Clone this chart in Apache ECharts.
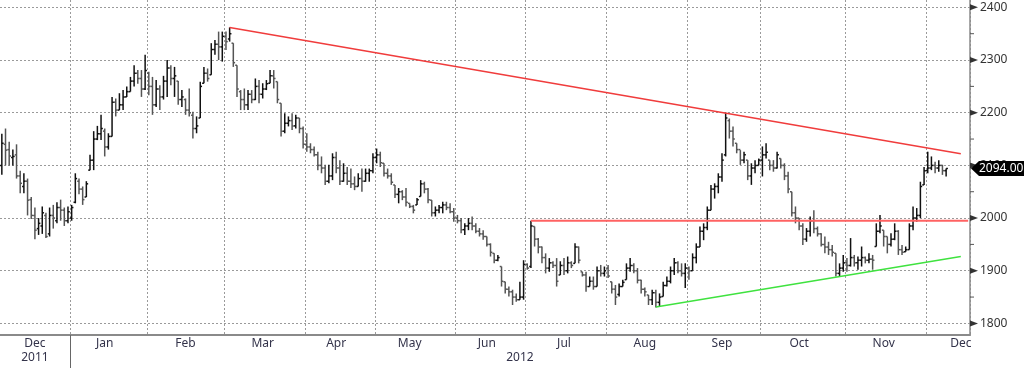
<!DOCTYPE html>
<html><head><meta charset="utf-8">
<script src="https://cdn.jsdelivr.net/npm/echarts@6/dist/echarts.min.js"></script>
<style>html,body{margin:0;padding:0;background:#fff}#c{width:1024px;height:368px}</style>
</head><body><div id="c"></div>
<script>
// ---- calendar (trading days) ----
const startDate = '2011-12-02';
const endDate = '2012-12-18';
const holidays = ['2011-12-26','2011-12-27','2012-01-02','2012-04-06','2012-04-09','2012-05-07','2012-06-04','2012-06-05','2012-08-27'];
const monthNames = ['Jan','Feb','Mar','Apr','May','Jun','Jul','Aug','Sep','Oct','Nov','Dec'];

// ---- OHLC values (Dec 2011 .. Dec 2012) ----
const highs = [
2160,2170,2145,2130,2140,2090,2085,2075,2040,2020,2000,2022,2010,2020,2025,2030,2035,2020,2022,
2025,2085,2075,2060,2070,2120,2165,2175,2196,2170,2161,2230,2227,2237,2243,2250,2268,2290,2281,2281,2310,
2278,2268,2262,2252,2270,2300,2290,2287,2260,2243,2227,2246,2202,2193,2259,2287,2284,2332,2338,2354,2354,
2354,2362,2332,2290,2243,2246,2243,2243,2265,2262,2256,2262,2281,2281,2259,2218,2199,2193,2199,2196,2190,2174,
2161,2142,2136,2126,2117,2101,2101,2123,2126,2110,2104,2097,2094,2079,2085,2094,2094,2094,2123,
2132,2126,2104,2094,2085,2063,2057,2053,2057,2028,2025,2038,2072,2069,2057,2034,2022,2025,2031,2031,2028,2019,
2006,2000,1990,2000,2003,1990,1981,1977,1965,1952,1933,1930,1908,1879,1870,1864,1857,1879,1920,
1914,1995,1984,1962,1946,1933,1924,1918,1924,1918,1924,1927,1918,1952,1946,1898,1898,1889,1889,1908,1911,1908,
1911,1879,1873,1876,1883,1914,1924,1914,1905,1883,1868,1854,1864,1864,1857,1879,1889,1908,1924,1918,1914,1914,
1908,1933,1952,1984,1990,2022,2063,2066,2085,2123,2200,2189,2174,2142,2129,2126,2110,2104,2110,2113,
2136,2142,2110,2110,2126,2113,2104,2088,2050,2022,2000,1990,1981,2003,2015,1984,1971,1965,1955,1949,1933,1914,1930,
1924,1962,1930,1927,1946,1927,1933,1930,1990,2006,1977,1965,1971,1990,1977,1949,1946,1990,2022,2019,2069,2097,
2126,2117,2107,2110,2101,2094];
const lows = [
2082,2100,2100,2100,2075,2047,2047,2005,1998,1960,1968,1970,1962,1965,1980,1990,1995,1985,1990,
1995,2028,2045,2025,2040,2091,2091,2148,2148,2117,2130,2155,2193,2205,2205,2230,2240,2250,2255,2230,2243,
2233,2196,2211,2205,2225,2230,2252,2230,2215,2211,2196,2193,2151,2161,2190,2256,2259,2272,2310,2300,2297,
2319,2335,2287,2230,2205,2205,2205,2218,2224,2218,2227,2243,2256,2246,2218,2155,2161,2174,2167,2170,2161,2132,
2126,2123,2117,2091,2085,2063,2066,2072,2085,2063,2069,2063,2057,2053,2060,2050,2069,2069,2085,
2104,2097,2079,2075,2063,2038,2028,2034,2022,2019,2009,2025,2041,2047,2028,2003,2003,2009,2009,2015,2009,1993,
1990,1971,1968,1977,1977,1971,1965,1959,1946,1927,1914,1918,1870,1857,1851,1835,1841,1845,1845,
1902,1905,1946,1933,1914,1895,1898,1905,1870,1892,1892,1895,1905,1914,1914,1889,1860,1870,1864,1870,1889,1889,
1886,1857,1835,1851,1870,1883,1898,1895,1876,1857,1851,1835,1835,1830,1832,1851,1870,1876,1892,1895,1889,1867,
1883,1900,1914,1945,1958,1977,2015,2037,2047,2069,2117,2151,2136,2123,2101,2104,2072,2063,2085,2100,
2079,2113,2091,2088,2094,2094,2072,2047,2003,1990,1977,1949,1955,1965,1971,1965,1946,1933,1930,1927,1889,1889,1898,
1898,1908,1908,1902,1908,1914,1914,1902,1946,1971,1946,1933,1946,1958,1930,1930,1936,1940,1977,1993,2000,2063,
2085,2091,2085,2088,2082,2079];
const opens = [
2100,2140,2130,2115,2120,2080,2060,2070,2035,2005,1980,1985,2005,1970,2005,1995,2020,2015,1995,
2000,2030,2070,2055,2040,2091,2110,2150,2160,2165,2135,2155,2220,2205,2215,2230,2240,2260,2275,2265,2245,
2275,2250,2215,2245,2230,2260,2285,2265,2260,2225,2225,2205,2195,2170,2190,2256,2275,2272,2320,2330,2325,
2345,2340,2332,2290,2240,2225,2215,2235,2225,2250,2235,2245,2256,2270,2259,2218,2165,2180,2185,2175,2190,2170,
2140,2135,2130,2120,2100,2095,2070,2080,2115,2095,2070,2085,2070,2065,2060,2075,2070,2085,2090,
2115,2120,2104,2085,2080,2063,2045,2050,2040,2028,2022,2025,2041,2065,2055,2034,2010,2015,2020,2025,2020,2012,
2000,1995,1978,1985,1990,1985,1975,1970,1965,1950,1933,1920,1908,1879,1865,1860,1850,1845,1850,
1912,1908,1984,1960,1945,1925,1905,1915,1910,1892,1910,1900,1915,1914,1945,1898,1892,1870,1880,1870,1900,1895,
1905,1879,1865,1855,1870,1883,1905,1910,1900,1882,1865,1854,1845,1858,1840,1851,1872,1880,1900,1915,1900,1895,
1905,1900,1925,1945,1975,1982,2015,2055,2060,2078,2120,2185,2165,2142,2130,2110,2110,2080,2095,2100,
2110,2120,2110,2100,2095,2113,2100,2080,2050,2010,2000,1985,1960,1975,1995,1980,1970,1950,1945,1940,1933,1895,1905,
1915,1910,1925,1915,1920,1925,1920,1922,1946,1975,1977,1965,1950,1960,1975,1940,1936,1940,1985,2000,2005,2063,
2090,2095,2100,2095,2100,2090];
const closes = [
2142,2129,2118,2117,2080,2066,2070,2034,2005,1977,1990,2010,1965,2005,2000,2020,2015,1995,2012,
2020,2075,2055,2035,2065,2110,2150,2160,2170,2135,2155,2220,2205,2215,2230,2240,2260,2275,2265,2245,2280,
2250,2215,2245,2230,2260,2285,2265,2270,2225,2230,2205,2200,2170,2175,2250,2275,2265,2320,2330,2325,2345,
2335,2350,2295,2245,2225,2215,2235,2225,2250,2235,2245,2255,2270,2265,2225,2165,2180,2185,2175,2190,2170,2140,
2135,2130,2120,2100,2095,2070,2080,2115,2095,2070,2085,2070,2065,2060,2075,2070,2085,2090,2115,
2120,2105,2085,2080,2068,2045,2050,2040,2030,2022,2015,2035,2065,2055,2035,2010,2015,2020,2025,2020,2012,2000,
1995,1978,1985,1990,1985,1975,1970,1965,1950,1935,1920,1925,1880,1865,1860,1850,1845,1850,1912,
1905,1985,1960,1945,1925,1905,1915,1910,1880,1910,1900,1915,1910,1945,1920,1892,1870,1880,1870,1900,1895,1900,
1890,1865,1850,1870,1878,1905,1910,1900,1882,1865,1860,1845,1858,1840,1850,1872,1880,1900,1915,1900,1895,1905,
1900,1925,1945,1975,1982,2015,2055,2060,2078,2110,2190,2165,2150,2130,2110,2120,2080,2095,2100,2110,
2120,2125,2100,2095,2120,2100,2080,2055,2010,2000,1985,1960,1975,1995,1980,1970,1950,1945,1940,1935,1895,1905,1915,
1910,1925,1915,1920,1925,1920,1922,1920,1975,1985,1965,1950,1960,1975,1940,1935,1940,1985,2000,2005,2060,2090,
2095,2100,2095,2100,2090,2094];

const lastPrice = 2094.00;
const yMarks = [1800,1850,1900,1950,2000,2050,2100,2150,2200,2250,2300,2350,2400];
// trend lines: [category index, value]
const downTrend = [[62,2362],[261,2122]];
const resistance = [[144,1995],[263,1995]];
const upTrend = [[178,1831],[261,1927]];

// ---- build categories ----
function tradingDays(start, end, hol){
  const out=[]; const d=new Date(start+'T00:00:00Z'); const e=new Date(end+'T00:00:00Z');
  while(d<=e){ const w=d.getUTCDay(); const s=d.toISOString().slice(0,10);
    if(w!==0&&w!==6&&!hol.includes(s)) out.push(s); d.setUTCDate(d.getUTCDate()+1); }
  return out;
}
const dates = tradingDays(startDate, endDate, holidays);
const monthStarts = new Set(), monthLabels = new Set(), yearLabels = new Set();
let yearStart = -1;
(function(){
  const groups = {}; const years = {};
  dates.forEach((s,i)=>{
    const m=s.slice(0,7), y=s.slice(0,4);
    if(i>0 && m!==dates[i-1].slice(0,7)) monthStarts.add(i);
    if(i>0 && y!==dates[i-1].slice(0,4)) yearStart=i;
    (groups[m]=groups[m]||[]).push(i); (years[y]=years[y]||[]).push(i);
  });
  Object.values(groups).forEach(g=>{
    let best=g[0], bd=99;
    g.forEach(i=>{const dd=Math.abs(+dates[i].slice(8,10)-15); if(dd<bd){bd=dd;best=i;}});
    monthLabels.add(best);
  });
  Object.values(years).forEach(g=>yearLabels.add(Math.floor((g[0]+g[g.length-1])/2)));
})();

const ohlc = highs.map((h,i)=>[i, opens[i], h, lows[i], closes[i]]);
const FONT = 'Noto Sans';

function renderBar(params, api){
  const i=api.value(0), o=api.value(1), h=api.value(2), l=api.value(3), c=api.value(4);
  const ph=api.coord([i,h]), pl=api.coord([i,l]), po=api.coord([i,o]), pc=api.coord([i,c]);
  const x=ph[0];
  const color = c>=o ? '#111' : '#555';
  const st={stroke:color,lineWidth:1.5};
  return {type:'group',children:[
    {type:'line',shape:{x1:x,y1:ph[1],x2:x,y2:pl[1]},style:st},
    {type:'line',shape:{x1:x-1.8,y1:po[1],x2:x,y2:po[1]},style:st},
    {type:'line',shape:{x1:x,y1:pc[1],x2:x+1.8,y2:pc[1]},style:st}]};
}
function renderMarks(params, api){
  const v=api.value(1); const p=api.coord([0,v]);
  const x0=params.coordSys.x+params.coordSys.width;
  if(v%100===0) return {type:'polygon',shape:{points:[[x0,p[1]-3],[x0+8,p[1]],[x0,p[1]+3]]},style:{fill:'#333'}};
  return {type:'line',shape:{x1:x0,y1:p[1],x2:x0+4,y2:p[1]},style:{stroke:'#555',lineWidth:1}};
}
function renderYearSep(params, api){
  const p=api.coord([api.value(0), api.value(1)]);
  const bw=api.size([1,0])[0];
  const x=Math.round(p[0]-bw/2)+0.5;
  const y0=params.coordSys.y+params.coordSys.height;
  return {type:'line',shape:{x1:x,y1:y0,x2:x,y2:368},style:{stroke:'#666',lineWidth:1}};
}
function renderTag(params, api){
  const v=api.value(1); const p=api.coord([api.value(0),v]);
  const x0=params.coordSys.x+params.coordSys.width+1; const y=p[1];
  return {type:'group',children:[
    {type:'polygon',shape:{points:[[x0,y],[x0+8,y-7.5],[1024,y-7.5],[1024,y+7.5],[x0+8,y+7.5]]},style:{fill:'#000'}},
    {type:'text',style:{text:v.toFixed(2),x:x0+8,y:y+0.5,fill:'#fff',font:'12px '+FONT,textAlign:'left',textVerticalAlign:'middle',verticalAlign:'middle'}}]};
}

const chart = echarts.init(document.getElementById('c'), null, {renderer:'canvas'});
chart.setOption({
  animation:false,
  backgroundColor:'#fff',
  textStyle:{fontFamily:FONT},
  grid:{left:0,right:54,top:0,bottom:33,containLabel:false},
  xAxis:[{
    type:'category',data:dates,boundaryGap:true,
    axisLine:{lineStyle:{color:'#8a8a8a',width:2}},
    axisTick:{interval:(i)=>monthStarts.has(i),length:4,lineStyle:{color:'#555'}},
    axisLabel:{interval:(i)=>monthLabels.has(i),formatter:(v)=>monthNames[+v.slice(5,7)-1],color:'#33334a',fontSize:12,fontFamily:FONT,margin:3},
    splitLine:{show:true,interval:(i)=>monthStarts.has(i),lineStyle:{color:'#9a9a9a',type:[2,2],width:1}}
  },{
    type:'category',data:dates,boundaryGap:true,position:'bottom',offset:0,
    axisLine:{show:false},
    axisTick:{show:false},
    axisLabel:{interval:(i)=>yearLabels.has(i),formatter:(v)=>v.slice(0,4),color:'#33334a',fontSize:12,fontFamily:FONT,margin:17},
    splitLine:{show:false}
  }],
  yAxis:{
    type:'value',position:'right',min:1778,max:2414,minInterval:100,maxInterval:100,
    axisLine:{show:true,lineStyle:{color:'#8a8a8a',width:1.5}},
    axisTick:{show:false},
    axisLabel:{showMinLabel:false,showMaxLabel:false,formatter:(v)=>v%100===0?String(v):'',color:'#333',fontSize:12,fontFamily:FONT,margin:10},
    splitLine:{show:true,showMinLine:false,showMaxLine:false,lineStyle:{color:'#9a9a9a',type:[2,2],width:1}}
  },
  series:[
    {type:'custom',name:'price',data:ohlc,encode:{x:0,y:[1,2,3,4]},renderItem:renderBar,z:3,silent:true},
    {type:'line',data:downTrend,symbol:'none',silent:true,z:4,lineStyle:{color:'#f03c3c',width:1.5}},
    {type:'line',data:resistance,symbol:'none',silent:true,z:4,lineStyle:{color:'#ff6262',width:2}},
    {type:'line',data:upTrend,symbol:'none',silent:true,z:4,lineStyle:{color:'#3fe23f',width:1.5}},
    {type:'custom',data:yMarks.map(v=>[0,v]),renderItem:renderMarks,clip:false,silent:true,z:5},
    {type:'custom',data:[[yearStart,1800]],renderItem:renderYearSep,clip:false,silent:true,z:5},
    {type:'custom',data:[[highs.length-1,lastPrice]],renderItem:renderTag,clip:false,silent:true,z:6}
  ]
});
</script>
</body></html>
